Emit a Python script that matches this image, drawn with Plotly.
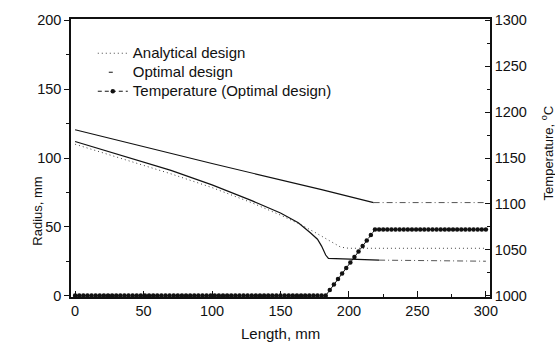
import plotly.graph_objects as go

# ---- data ----
opt_upper_len = [0, 100, 180, 218]
opt_upper_rad = [120.5, 96, 77, 67.6]
opt_upper_ext_len = [218, 300]
opt_upper_ext_rad = [67.6, 67.6]

opt_lower_len = [0, 25, 50, 70, 100, 129, 150, 163, 172, 177, 180, 183, 185, 222]
opt_lower_rad = [112, 104.5, 97, 91, 80.5, 69, 60, 53, 45.5, 41, 36, 29.5, 27, 25.8]
opt_lower_ext_len = [222, 300]
opt_lower_ext_rad = [25.8, 25]

ana_len = [0, 25, 50, 70, 100, 129, 150, 165, 176, 183, 189, 194, 200, 300]
ana_rad = [110, 102.5, 95, 88.5, 78.5, 67.5, 58.5, 51.5, 45.5, 41.5, 38, 35.2, 34.4, 34.4]

temp_len = [0, 3, 6, 9, 12, 15, 18, 21, 24, 27, 30, 33, 36, 39, 42, 45, 48, 51, 54, 57,
            60, 63, 66, 69, 72, 75, 78, 81, 84, 87, 90, 93, 96, 99, 102, 105, 108, 111, 114, 117,
            120, 123, 126, 129, 132, 135, 138, 141, 144, 147, 150, 153, 156, 159, 162, 165, 168, 171, 174, 177,
            180, 183, 186, 189, 192, 195, 198, 201, 204, 207, 210, 213, 216, 219, 222, 225, 228, 231, 234, 237,
            240, 243, 246, 249, 252, 255, 258, 261, 264, 267, 270, 273, 276, 279, 282, 285, 288, 291, 294, 297,
            300]
temp_val = [1000, 1000, 1000, 1000, 1000, 1000, 1000, 1000, 1000, 1000,
            1000, 1000, 1000, 1000, 1000, 1000, 1000, 1000, 1000, 1000,
            1000, 1000, 1000, 1000, 1000, 1000, 1000, 1000, 1000, 1000,
            1000, 1000, 1000, 1000, 1000, 1000, 1000, 1000, 1000, 1000,
            1000, 1000, 1000, 1000, 1000, 1000, 1000, 1000, 1000, 1000,
            1000, 1000, 1000, 1000, 1000, 1000, 1000, 1000, 1000, 1000,
            1000, 1000,
            1006, 1012, 1018, 1024, 1030, 1036, 1042, 1048, 1054, 1060, 1066, 1072,
            1072, 1072, 1072, 1072, 1072, 1072, 1072, 1072, 1072, 1072,
            1072, 1072, 1072, 1072, 1072, 1072, 1072, 1072, 1072, 1072,
            1072, 1072, 1072, 1072, 1072, 1072, 1072]

x_ticks = [0, 50, 100, 150, 200, 250, 300]
r_ticks = [0, 50, 100, 150, 200]
t_ticks = [1000, 1050, 1100, 1150, 1200, 1250, 1300]

FONT = "Liberation Sans, Arial, sans-serif"
BLACK = "#111111"


def leg(t):
    return '<span style="font-size:15px">' + t + '</span>'


fig = go.Figure()

fig.add_trace(go.Scatter(x=ana_len, y=ana_rad, mode="lines", name=leg("Analytical design"),
                         line=dict(color="#444444", width=1, dash="1px,3px")))
fig.add_trace(go.Scatter(x=[None], y=[None], mode="lines", name=leg("Optimal design"),
                         line=dict(color=BLACK, width=1, dash="0px,11px,4px,15px")))
fig.add_trace(go.Scatter(x=temp_len, y=temp_val, mode="lines+markers", yaxis="y2",
                         name=leg("Temperature (Optimal design)"),
                         line=dict(color=BLACK, width=1, dash="4px,3px"),
                         marker=dict(color=BLACK, size=4.5, symbol="circle")))
fig.add_trace(go.Scatter(x=opt_upper_len, y=opt_upper_rad, mode="lines", showlegend=False,
                         line=dict(color=BLACK, width=1.2)))
fig.add_trace(go.Scatter(x=opt_lower_len, y=opt_lower_rad, mode="lines", showlegend=False,
                         line=dict(color=BLACK, width=1.2)))
fig.add_trace(go.Scatter(x=opt_upper_ext_len, y=opt_upper_ext_rad, mode="lines", showlegend=False,
                         line=dict(color="#555555", width=1, dash="6px,3px,1px,3px")))
fig.add_trace(go.Scatter(x=opt_lower_ext_len, y=opt_lower_ext_rad, mode="lines", showlegend=False,
                         line=dict(color="#555555", width=1, dash="6px,3px,1px,3px")))

fig.update_layout(
    width=555, height=345,
    margin=dict(l=71, r=65, t=19, b=48),
    paper_bgcolor="white", plot_bgcolor="white",
    font=dict(family=FONT, size=14, color=BLACK),
    showlegend=True,
    legend=dict(x=0.052, y=0.929, xanchor="left", yanchor="top",
                bgcolor="rgba(0,0,0,0)", borderwidth=0,
                font=dict(family=FONT, size=12.3, color=BLACK)),
    xaxis=dict(range=[-3, 303], tickvals=x_ticks, ticks="inside", ticklen=6, tickwidth=1.2,
               tickcolor=BLACK, showline=True, linecolor=BLACK, linewidth=1.5, mirror=True,
               showgrid=False, zeroline=False, tickfont=dict(size=14.5),
               minor=dict(tickvals=[25, 75, 125, 175, 225, 275], ticks="inside", ticklen=3,
                          tickcolor=BLACK, showgrid=False)),
    yaxis=dict(range=[-1, 201], tickvals=r_ticks, ticks="outside", ticklen=5, tickwidth=1.2,
               tickcolor=BLACK, showline=True, linecolor=BLACK, linewidth=1.5,
               showgrid=False, zeroline=False, tickfont=dict(size=14.5),
               minor=dict(tickvals=[25, 75, 125, 175], ticks="outside", ticklen=3,
                          tickcolor=BLACK, showgrid=False)),
    yaxis2=dict(range=[998.5, 1301.5], tickvals=t_ticks, overlaying="y", side="right",
                ticks="inside", ticklen=5, tickwidth=1.2, tickcolor=BLACK,
                showline=True, linecolor=BLACK, linewidth=1.5,
                showgrid=False, zeroline=False, tickfont=dict(size=14.5),
                minor=dict(tickvals=[1025, 1075, 1125, 1175, 1225, 1275], ticks="inside",
                           ticklen=3, tickcolor=BLACK, showgrid=False)),
    annotations=[
        dict(text="Length, mm", xref="paper", yref="paper", x=0.5, y=-0.13,
             xanchor="center", yanchor="middle", showarrow=False,
             font=dict(family=FONT, size=15, color=BLACK)),
        dict(text="Radius, mm", xref="paper", yref="paper", x=-0.079, y=0.31,
             xanchor="center", yanchor="middle", textangle=-90, showarrow=False,
             font=dict(family=FONT, size=13, color=BLACK)),
        dict(text="Temperature, <sup>o</sup>C", xref="paper", yref="paper", x=1.137, y=0.518,
             xanchor="center", yanchor="middle", textangle=-90, showarrow=False,
             font=dict(family=FONT, size=13, color=BLACK)),
    ],
)

fig.write_html("out.html")
